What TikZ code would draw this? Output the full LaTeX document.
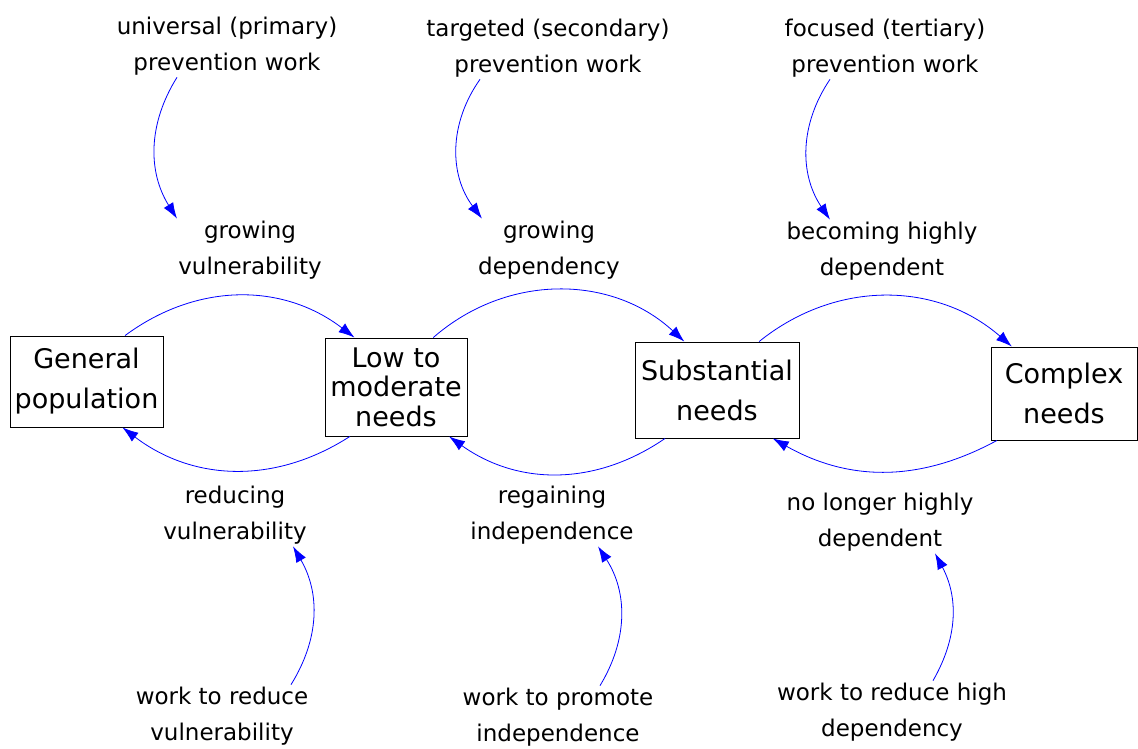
\documentclass[tikz,border=0pt]{standalone}
\usepackage{fontspec}
\setmainfont{DejaVu Sans}
\usepackage{tikz}
\usetikzlibrary{arrows.meta, positioning}

\tikzset{
    stock/.style={draw, line width=0.9pt, align=center, inner sep=2pt,
        font=\fontsize{27}{40}\selectfont},
    flowlbl/.style={align=center, inner sep=2pt, font=\fontsize{23}{36}\selectfont},
    link/.style={blue, line width=0.8pt, -{Latex[length=16pt,width=11pt]}}
}

\begin{document}
\begin{tikzpicture}[x=1pt, y=-1pt]
        \useasboundingbox (0,0) rectangle (1138,749);
        % stocks
        \node[stock, minimum width=153, minimum height=91] (gen) at (86.5,381.5) {General\\population};
        \node[stock, minimum width=142, minimum height=98, font=\fontsize{27}{29.5}\selectfont] (low) at (396,387) {Low to\\moderate\\needs};
        \node[stock, minimum width=164, minimum height=96] (sub) at (717,390) {Substantial\\needs};
        \node[stock, minimum width=146, minimum height=93] (com) at (1064,393.5) {Complex\\needs};
        % flow labels
        \node[flowlbl] (grow1) at (250,250) {growing\\vulnerability};
        \node[flowlbl] (grow2) at (549,250) {growing\\dependency};
        \node[flowlbl] (becom) at (882,251) {becoming highly\\dependent};
        \node[flowlbl] (redu) at (235,515) {reducing\\vulnerability};
        \node[flowlbl] (rega) at (552,515) {regaining\\independence};
        \node[flowlbl] (nolo) at (880,522) {no longer highly\\dependent};
        % work
        \node[flowlbl] (univ) at (227,46) {universal (primary)\\prevention work};
        \node[flowlbl] (targ) at (548,48) {targeted (secondary)\\prevention work};
        \node[flowlbl] (focu) at (885,48) {focused (tertiary)\\prevention work};
        \node[flowlbl] (wred) at (222,716) {work to reduce\\vulnerability};
        \node[flowlbl] (wpro) at (558,717) {work to promote\\independence};
        \node[flowlbl] (whig) at (892,712) {work to reduce high\\dependency};
        % flows
        \draw[link] (gen.50) to[bend left=37] (low.130);
        \draw[link] (low.53) to[bend left=42] (sub.124);
        \draw[link] (sub.49) to[bend left=40] (com.138);
        \draw[link] (low.227) to[bend left=35] (gen.308);
        \draw[link] (sub.223) to[bend left=35] (low.317);
        \draw[link] (com.215) to[bend left=29] (sub.319);
        % work on flows
        \draw[link] ([xshift=-50]univ.south) to[bend right=32] ([xshift=-73]grow1.north);
        \draw[link] ([xshift=-68]targ.south) to[bend right=36] ([xshift=-67]grow2.north);
        \draw[link] ([xshift=-55]focu.south) to[bend right=34] ([xshift=-52]becom.north);
        \draw[link] ([xshift=69]wred.north) to[bend right=31] ([xshift=58]redu.south);
        \draw[link] ([xshift=42]wpro.north) to[bend right=32] ([xshift=46]rega.south);
        \draw[link] ([xshift=41]whig.north) to[bend right=29] ([xshift=55]nolo.south);
    \end{tikzpicture}
\end{document}
